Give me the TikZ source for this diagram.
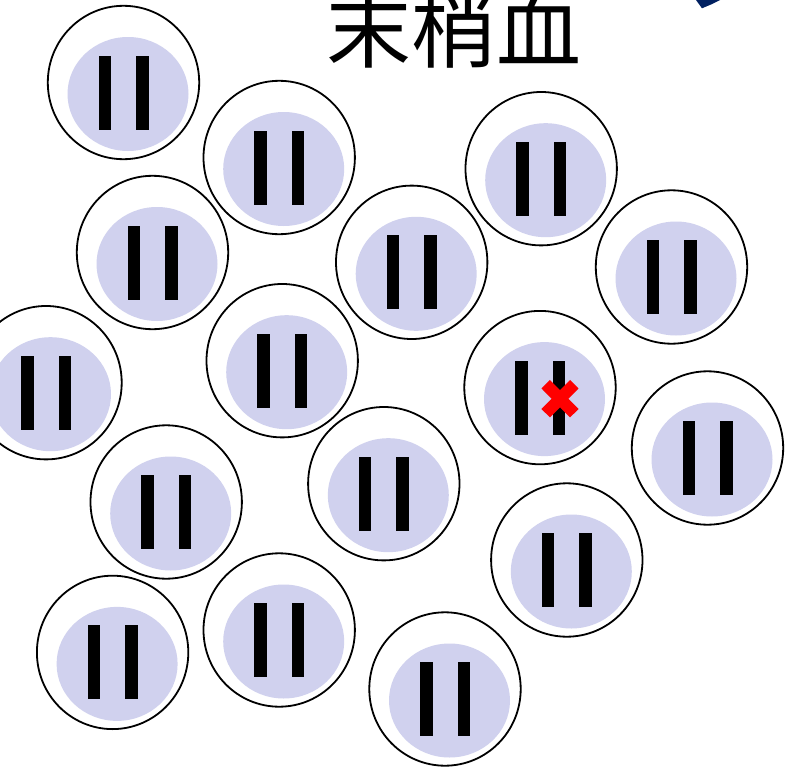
\documentclass[tikz,border=0pt]{standalone}
\usepackage{fontspec}
\newfontfamily\cjk{Noto Sans CJK JP}
\definecolor{nuc}{RGB}{208,209,238}
\definecolor{arrowblue}{RGB}{0,32,96}
\begin{document}
\begin{tikzpicture}[x=1pt,y=-1pt,
  cellring/.style={draw=black,line width=1.8pt,fill=white},
  nucleus/.style={fill=nuc},
  chromo/.style={fill=black},
  cross/.style={draw=red,line width=12pt},
  titletext/.style={anchor=base,inner sep=0pt,font=\cjk\fontsize{85}{85}\selectfont}]
\useasboundingbox (0,0) rectangle (788,771);
\clip (0,0) rectangle (788,771);
\foreach \n/\x/\y in {1/123.5/82.5, 2/279.2/157.5, 3/152.5/252.5, 4/411.7/262.3,
  5/541.2/168.7, 6/671.5/267, 7/46/382.7, 8/282.2/360.7, 9/540/387.6,
  10/707.5/448, 11/166.2/502, 12/383.8/483.7, 13/566.8/560, 14/112.6/652.4,
  15/279.2/630, 16/445/689}{
  \coordinate (cell\n) at (\x,\y);
  \draw[cellring] (cell\n) ellipse [x radius=75.7, y radius=76.7];
  \fill[nucleus] ([shift={(4.5,11.5)}]cell\n) ellipse [x radius=60.5, y radius=57];
  \fill[chromo] ([shift={(-25,-27)}]cell\n) rectangle ([shift={(-12.5,47)}]cell\n);
  \fill[chromo] ([shift={(12.5,-27)}]cell\n) rectangle ([shift={(25,47)}]cell\n);
}
\coordinate (xm) at (560,398.7);
\coordinate (xa) at (545.7,384.2);
\coordinate (xb) at (574.3,413.2);
\coordinate (xc) at (574.3,384.2);
\coordinate (xd) at (545.7,413.2);
\draw[cross] (xa) -- (xb);
\draw[cross] (xc) -- (xd);
\fill[arrowblue] (696,0) -- (720,0) -- (711,4.5) -- (702,8.3) -- cycle;
\node[titletext] (title) at (454,61) {末梢血};
\end{tikzpicture}
\end{document}
